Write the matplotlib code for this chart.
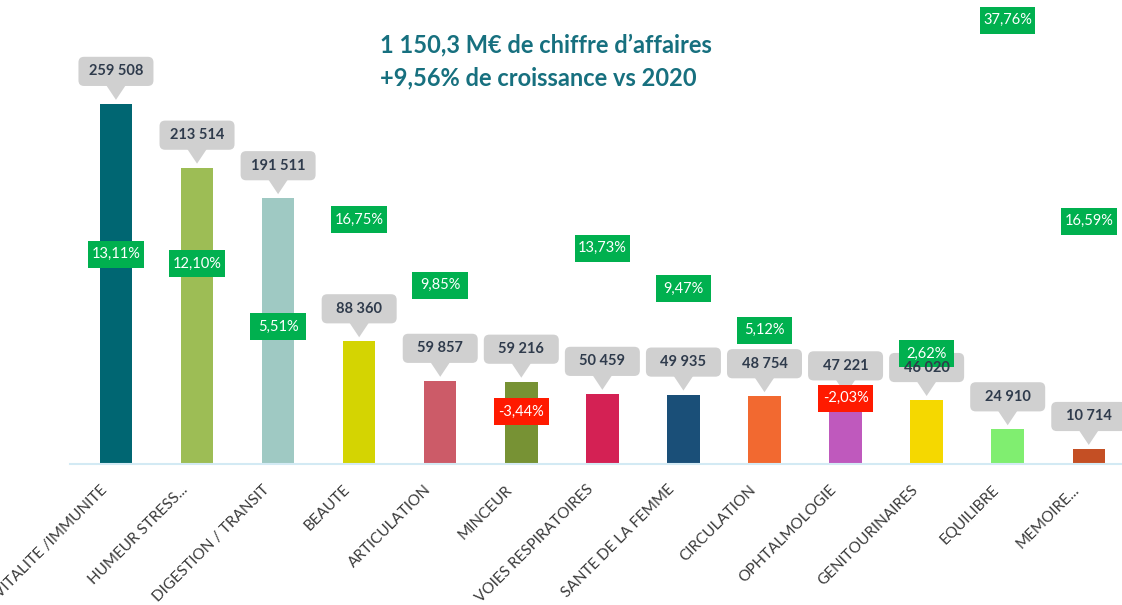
import matplotlib.pyplot as plt
from matplotlib.patches import FancyBboxPatch, Polygon, Rectangle
from matplotlib.transforms import Affine2D, ScaledTranslation

categories = [
    "VITALITE /IMMUNITE", "HUMEUR STRESS...", "DIGESTION / TRANSIT", "BEAUTE",
    "ARTICULATION", "MINCEUR", "VOIES RESPIRATOIRES", "SANTE DE LA FEMME",
    "CIRCULATION", "OPHTALMOLOGIE", "GENITOURINAIRES", "EQUILIBRE", "MEMOIRE...",
]
sales = [259508, 213514, 191511, 88360, 59857, 59216, 50459, 49935,
         48754, 47221, 46020, 24910, 10714]
growth = [13.11, 12.10, 5.51, 16.75, 9.85, -3.44, 13.73, 9.47,
          5.12, -2.03, 2.62, 37.76, 16.59]
bar_colors = ["#006672", "#9dbd55", "#9fc9c3", "#d4d402", "#cc5b68", "#779234",
              "#d42154", "#1a4f78", "#f26930", "#bf59bd", "#f5d800", "#80ee70",
              "#c44f24"]
title_lines = ["1 150,3 M\u20ac de chiffre d\u2019affaires",
               "+9,56% de croissance vs 2020"]

plt.rcParams["font.family"] = ["Lato", "DejaVu Sans"]

fig = plt.figure(figsize=(11.22, 6.05), dpi=100)
ax = fig.add_axes([70 / 1122, 141 / 605, 1052 / 1122, 464 / 605])
ax2 = ax.twinx()

x = list(range(len(categories)))
ax.bar(x, sales, width=0.4, color=bar_colors, zorder=2)
ax.set_xlim(-0.567, 12.41)
ax.set_ylim(0, 334500)
ax2.set_ylim(-8.97, 39.87)

for a in (ax, ax2):
    for side in ("top", "right", "left"):
        a.spines[side].set_visible(False)
    a.set_yticks([])
ax2.spines["bottom"].set_visible(False)
ax.spines["bottom"].set_color("#d3eaf4")
ax.spines["bottom"].set_linewidth(1.5)

ax.set_xticks(x)
ax.set_xticklabels(categories, rotation=45, ha="right", va="center",
                   rotation_mode="anchor", fontsize=11, color="#3a3a3a")
ax.tick_params(axis="x", length=0, pad=17)
shift = ScaledTranslation(-8 / 72, 0, fig.dpi_scale_trans)
for lab in ax.get_xticklabels():
    lab.set_transform(lab.get_transform() + shift)


def anchored(a, xv, yv):
    # units in points, origin at a data point
    return Affine2D().scale(fig.dpi / 72.0) + ScaledTranslation(xv, yv, a.transData)


# grey callouts with the sales values (text drawn on the top axes)
for i, v in zip(x, sales):
    tr = anchored(ax, i, v)
    box = FancyBboxPatch((-27, 13), 54, 21, boxstyle="round,pad=0,rounding_size=4",
                         transform=tr, facecolor="#d0d0d0", edgecolor="none",
                         clip_on=False, zorder=3)
    ax.add_patch(box)
    tri = Polygon([(-7, 13.5), (7, 13.5), (0, 3)], closed=True, transform=tr,
                  facecolor="#d0d0d0", edgecolor="none", clip_on=False, zorder=3)
    ax.add_patch(tri)
    ax2.text(0, 23.5, f"{v:,}".replace(",", " "), transform=tr, ha="center",
             va="center", fontsize=10.5, fontweight="bold", color="#2f3b4c",
             zorder=8, clip_on=False)

# growth boxes
for i, g in zip(x, growth):
    tr = anchored(ax2, i, g)
    col = "#00b04f" if g >= 0 else "#ff1a00"
    rect = Rectangle((-20, -9.75), 40, 19.5, transform=tr, facecolor=col,
                     edgecolor="none", clip_on=False, zorder=5)
    ax2.add_patch(rect)
    ax2.text(0, 0, f"{g:.2f}%".replace(".", ","), transform=tr, ha="center",
             va="center", fontsize=10.5, color="white", zorder=6, clip_on=False)

fig.text(380 / 1122, 1 - 45 / 605, title_lines[0], ha="left", va="center",
         fontsize=17, fontweight="bold", color="#17707f")
fig.text(380 / 1122, 1 - 78 / 605, title_lines[1], ha="left", va="center",
         fontsize=17, fontweight="bold", color="#17707f")

fig.savefig("out.png", dpi=100)
